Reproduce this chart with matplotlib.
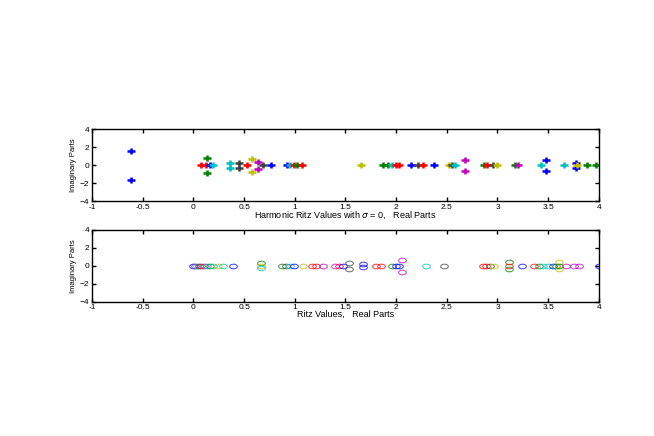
import matplotlib
matplotlib.use("Agg")
import matplotlib.pyplot as plt
import numpy as np
from matplotlib.path import Path

plt.rcParams['font.family'] = ['Liberation Sans', 'DejaVu Sans']

C = {'b': '#0000ff', 'g': '#008000', 'r': '#ff0000', 'c': '#00bfbf',
     'm': '#bf00bf', 'y': '#bfbf00', 'k': '#404040'}

# harmonic Ritz values (top panel)
harm_re = [-0.62, -0.62, 0.13, 0.13, 0.08, 0.12, 0.16, 0.19, 0.36, 0.36,
           0.45, 0.45, 0.53, 0.58, 0.58, 0.64, 0.64, 0.69, 0.77, 0.92,
           0.95, 0.99, 1.02, 1.07, 1.65, 1.87, 1.92, 1.96, 2.00, 2.03,
           2.15, 2.22, 2.27, 2.37, 2.52, 2.55, 2.58, 2.68, 2.68, 2.87,
           2.90, 2.96, 3.00, 3.17, 3.20, 3.43, 3.48, 3.48, 3.66, 3.77,
           3.77, 3.78, 3.88, 3.97]
harm_im = [1.6, -1.6, 0.8, -0.8, 0, 0, 0, 0, 0.3, -0.3,
           0.3, -0.3, 0, 0.7, -0.7, 0.35, -0.35, 0, 0, 0,
           0, 0, 0, 0, 0, 0, 0, 0, 0, 0,
           0, 0, 0, 0, 0, 0, 0, 0.6, -0.6, 0,
           0, 0, 0, 0, 0, 0, 0.65, -0.65, 0, 0.3,
           -0.3, 0, 0, 0]
harm_col = ['b', 'b', 'g', 'g', 'r', 'r', 'b', 'c', 'c', 'c',
            'k', 'k', 'r', 'y', 'y', 'm', 'm', 'k', 'b', 'b',
            'c', 'r', 'g', 'r', 'y', 'g', 'g', 'c', 'r', 'r',
            'b', 'k', 'r', 'b', 'y', 'k', 'c', 'm', 'm', 'g',
            'r', 'k', 'y', 'g', 'm', 'c', 'b', 'b', 'c', 'b',
            'b', 'y', 'g', 'g']

# Ritz values (bottom panel)
ritz_re = [0.00, 0.02, 0.04, 0.06, 0.08, 0.10, 0.13, 0.16, 0.19, 0.24,
           0.29, 0.39, 0.67, 0.67, 0.67, 0.87, 0.91, 0.95, 0.99, 1.08,
           1.17, 1.21, 1.28, 1.40, 1.44, 1.48, 1.54, 1.54, 1.67, 1.67,
           1.80, 1.85, 1.96, 2.00, 2.03, 2.06, 2.06, 2.29, 2.47, 2.86,
           2.89, 2.93, 2.97, 3.11, 3.11, 3.11, 3.24, 3.36, 3.41, 3.45,
           3.50, 3.55, 3.58, 3.61, 3.61, 3.61, 3.68, 3.75, 3.80, 4.00]
ritz_im = [0, 0, 0, 0, 0, 0, 0, 0, 0, 0,
           0, 0, 0.3, 0, -0.3, 0, 0, 0, 0, 0,
           0, 0, 0, 0, 0, 0, 0.35, -0.35, 0.15, -0.15,
           0, 0, 0, 0, 0, 0.65, -0.65, 0, 0, 0,
           0, 0, 0, 0.4, 0, -0.4, 0, 0, 0, 0,
           0, 0, 0, 0.4, 0, -0.4, 0, 0, 0, 0]
ritz_col = ['b', 'm', 'c', 'g', 'r', 'm', 'c', 'g', 'c', 'y',
            'c', 'b', 'g', 'y', 'c', 'g', 'k', 'c', 'b', 'y',
            'r', 'r', 'm', 'm', 'r', 'b', 'k', 'k', 'b', 'b',
            'r', 'r', 'g', 'b', 'b', 'm', 'm', 'c', 'k', 'r',
            'r', 'k', 'y', 'g', 'r', 'g', 'b', 'r', 'g', 'c',
            'c', 'b', 'g', 'y', 'g', 'y', 'm', 'm', 'm', 'b']

xticks = [-1, -0.5, 0, 0.5, 1, 1.5, 2, 2.5, 3, 3.5, 4]
xticklabels = ['-1', '-0.5', '0', '0.5', '1', '1.5', '2', '2.5', '3', '3.5', '4']
yticks = [-4, -2, 0, 2, 4]

# squashed markers, as in the stretched original figure
t = np.linspace(0, 2 * np.pi, 40)
ellipse = Path(np.column_stack([np.cos(t), 0.6 * np.sin(t)]), closed=True)
flat_plus = Path([(-1, 0), (1, 0), (0, 0.7), (0, -0.7)],
                 [Path.MOVETO, Path.LINETO, Path.MOVETO, Path.LINETO])


def style_axes(ax, xlabel):
    ax.set_xlim(-1, 4)
    ax.set_ylim(-4, 4)
    ax.set_xticks(xticks)
    ax.set_xticklabels(xticklabels)
    ax.set_yticks(yticks)
    ax.tick_params(direction='in', top=True, right=True, labelsize=6,
                   length=3, width=1, pad=2)
    for s in ax.spines.values():
        s.set_linewidth(1)
    ax.set_xlabel(xlabel, fontsize=6.5, labelpad=-1)
    ax.set_ylabel('Imaginary Parts', fontsize=5.5, labelpad=2)


fig = plt.figure(figsize=(6.54, 4.36), dpi=100)
ax1 = fig.add_axes([0.1407, 0.538, 0.775, 0.165])
ax2 = fig.add_axes([0.1407, 0.308, 0.775, 0.165])

for x, y, c in zip(harm_re, harm_im, harm_col):
    ax1.plot(x, y, marker=flat_plus, color=C[c], markersize=6, mew=1.8,
             linestyle='none')
style_axes(ax1, 'Harmonic Ritz Values with $\\sigma$ = 0,   Real Parts')

for x, y, c in zip(ritz_re, ritz_im, ritz_col):
    ax2.plot(x, y, marker=ellipse, color=C[c], markersize=5.5, mew=0.8,
             mfc='none', alpha=0.7, linestyle='none')
style_axes(ax2, 'Ritz Values,   Real Parts')

fig.savefig('out.png', dpi=100)
